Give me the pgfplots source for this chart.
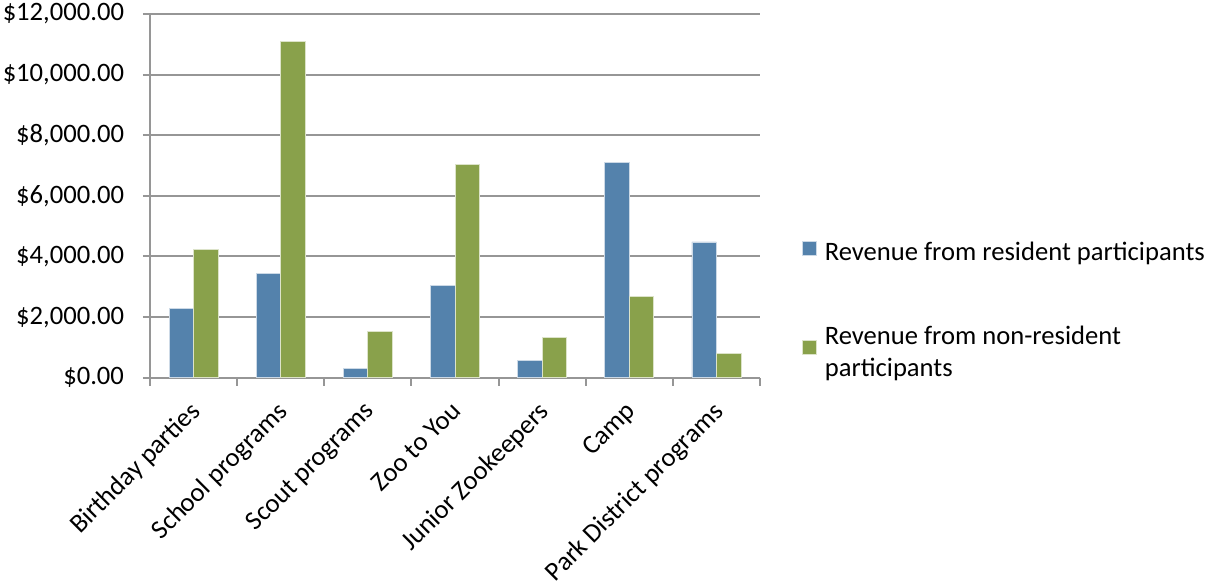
\documentclass[border=0pt]{standalone}
\usepackage{pgfplots}
\pgfplotsset{compat=1.18}
\usepackage{fontspec}
\setmainfont{Carlito}
\definecolor{resblue}{RGB}{84,130,172}
\definecolor{nongreen}{RGB}{137,161,75}
\definecolor{axgray}{RGB}{150,150,150}
\begin{document}
\begin{tikzpicture}
\useasboundingbox (0,0) rectangle (603bp,293bp);
\begin{axis}[
  at={(75bp,104.15bp)}, anchor=south west,
  scale only axis, width=305bp, height=181.85bp,
  ybar=0pt, bar width=12.25bp,
  xmin=-0.5, xmax=6.5, ymin=0, ymax=12000,
  scaled y ticks=false,
  axis lines=left, axis line style={-, draw=axgray, line width=1bp},
  xtick={0,...,6},
  xticklabels={Birthday parties, School programs, Scout programs, Zoo to You, Junior Zookeepers, Camp, Park District programs},
  major x tick style={draw=none},
  minor xtick={-0.5,0.5,...,6.5},
  minor x tick style={draw=axgray, line width=1bp},
  minor tick length=4bp,
  ytick={0,2000,...,12000},
  yticklabels={\$0.00,\$2{,}000.00,\$4{,}000.00,\$6{,}000.00,\$8{,}000.00,\$10{,}000.00,\$12{,}000.00},
  major y tick style={draw=axgray, line width=1bp},
  major tick length=3.5bp,
  tick align=outside,
  ymajorgrids, grid style={draw=axgray, line width=1bp},
  /pgf/number format/assume math mode=true,
  tick label style={font=\fontsize{13.3bp}{16bp}\selectfont, text=black},
  yticklabel style={xshift=-6bp},
  xticklabel style={rotate=45, anchor=north east, inner sep=1bp, xshift=-6bp, yshift=-2.5bp},
  legend style={at={(1.0585,0.395)}, anchor=north west, draw=none, fill=none,
    font=\fontsize{13.3bp}{16bp}\selectfont, row sep=27bp, column sep=2bp, cells={align=left, anchor=west}},
  legend cell align=left,
  legend image code/.code={\fill[#1] (0bp,-1bp) rectangle (7bp,6bp);},
]
\addplot[fill=resblue, draw=white!70!resblue, line width=0.4bp] coordinates {(0,2270) (1,3450) (2,310) (3,3050) (4,560) (5,7100) (6,4480)};
\addlegendentry{Revenue from resident participants}
\addplot[fill=nongreen, draw=white!70!nongreen, line width=0.4bp] coordinates {(0,4230) (1,11080) (2,1530) (3,7030) (4,1320) (5,2670) (6,790)};
\addlegendentry{Revenue from non-resident\\participants}
\end{axis}
\end{tikzpicture}
\end{document}
